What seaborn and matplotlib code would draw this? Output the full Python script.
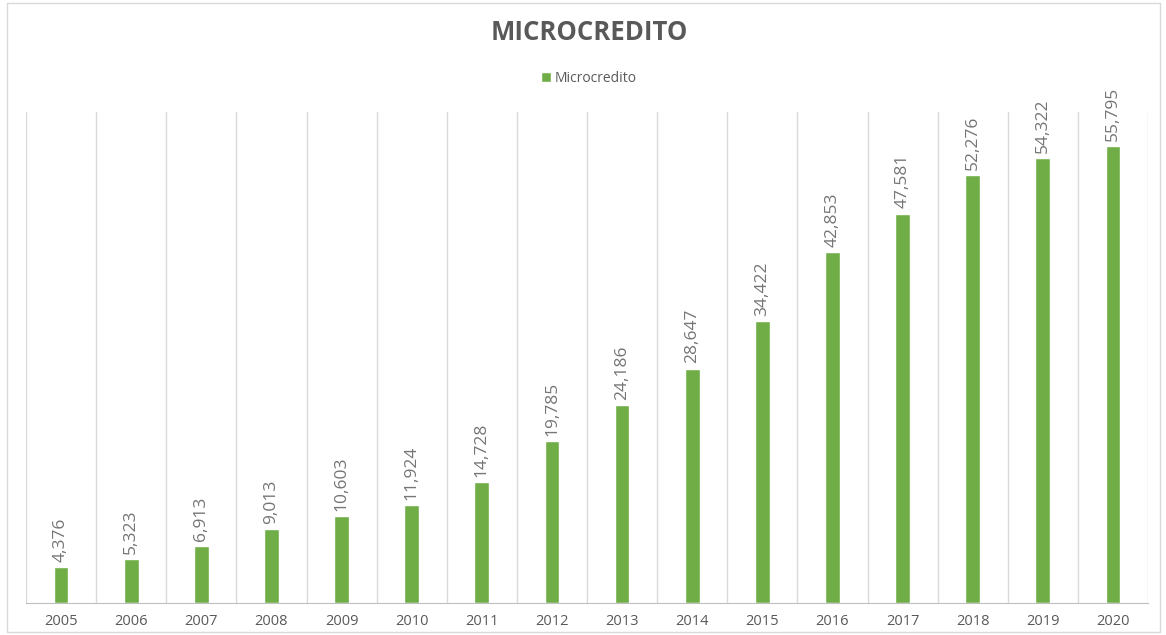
import numpy as np
import pandas as pd
import seaborn as sns
import matplotlib.pyplot as plt
from matplotlib.patches import Rectangle

years = ["2005", "2006", "2007", "2008", "2009", "2010", "2011", "2012",
         "2013", "2014", "2015", "2016", "2017", "2018", "2019", "2020"]
microcredito = [4376, 5323, 6913, 9013, 10603, 11924, 14728, 19785,
                24186, 28647, 34422, 42853, 47581, 52276, 54322, 55795]

df = pd.DataFrame({"anio": years, "valor": microcredito})

sns.set_style("white")
plt.rcParams["font.family"] = ["Open Sans", "DejaVu Sans"]

verde = "#70AD47"
gris = "#595959"
gris_claro = "#757575"

fig = plt.figure(figsize=(11.66, 6.35), dpi=100)
ax = fig.add_axes([0.0223, 0.0504, 0.9623, 0.7732])

sns.barplot(data=df, x="anio", y="valor", color=verde, width=0.21,
            saturation=1, ax=ax, label="Microcredito")
if ax.get_legend() is not None:
    ax.get_legend().remove()

ax.set_xlim(-0.5, len(years) - 0.5)
ax.set_ylim(0, 60000)
ax.set_yticks([])
ax.set_xlabel("")
ax.set_ylabel("")

# lineas verticales entre categorias
ax.set_xticks(np.arange(-0.5, len(years), 1), minor=True)
ax.grid(True, which="minor", axis="x", color="#D9D9D9", linewidth=1)
ax.tick_params(axis="x", which="both", length=0, labelsize=10.5, labelcolor=gris, pad=8)

for s in ["top", "left", "right"]:
    ax.spines[s].set_visible(False)
ax.spines["bottom"].set_color("#BFBFBF")

for i, v in enumerate(microcredito):
    ax.annotate(f"{v:,}", (i, v), xytext=(0, 4), textcoords="offset points",
                rotation=90, ha="center", va="bottom", fontsize=12.5, color=gris_claro)

fig.suptitle("MICROCREDITO", x=0.505, y=0.97, fontsize=18.5, fontweight="bold", color=gris)
fig.legend(loc="center", bbox_to_anchor=(0.505, 0.877), frameon=False, fontsize=10,
           labelcolor=gris, handlelength=0.7, handleheight=0.7, handletextpad=0.3)

fig.patches.append(Rectangle((0.006, 0.005), 0.989, 0.99, transform=fig.transFigure,
                             fill=False, edgecolor="#D9D9D9", linewidth=1))

fig.savefig("out.png", dpi=100)
